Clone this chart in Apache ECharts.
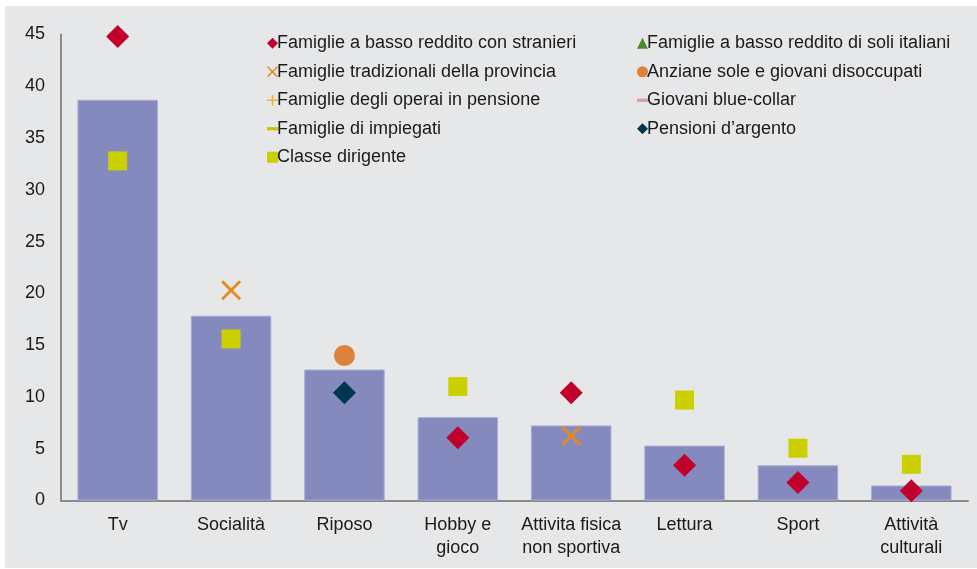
<!DOCTYPE html>
<html><head><meta charset="utf-8">
<script src="https://cdn.jsdelivr.net/npm/echarts@6/dist/echarts.min.js"></script>
<style>html,body{margin:0;padding:0;background:#fff;}#c{width:977px;height:569px;}</style>
</head><body><div id="c"></div>
<script>
const categories = ['Tv', 'Socialità', 'Riposo', 'Hobby e\ngioco', 'Attivita fisica\nnon sportiva', 'Lettura', 'Sport', 'Attività\nculturali'];
const barValues = [38.7, 17.85, 12.65, 8.05, 7.25, 5.3, 3.4, 1.45];
const stranieri = [44.8, null, null, 6.05, 10.4, 3.4, 1.75, 0.95];
const soliItaliani = [];
const tradizionali = [null, 20.3, null, null, 6.25, null, null, null];
const anziane = [null, null, 14.0, null, null, null, null, null];
const operai = [];
const blueCollar = [];
const impiegati = [];
const pensioni = [null, null, 10.4, null, null, null, null, null];
const dirigente = [32.8, 15.6, null, 11.0, null, 9.7, 5.05, 3.5];
const yTicks = [0, 45, 5];

const crossPath = 'path://M1,0 L5,4 L9,0 L10,1 L6,5 L10,9 L9,10 L5,6 L1,10 L0,9 L4,5 L0,1 Z';
const plusPath = 'path://M4.3,0 L5.7,0 L5.7,4.3 L10,4.3 L10,5.7 L5.7,5.7 L5.7,10 L4.3,10 L4.3,5.7 L0,5.7 L0,4.3 L4.3,4.3 Z';
const dashPath = 'path://M0,0 L10,0 L10,3 L0,3 Z';
const FONT = 'Liberation Sans, Arial, sans-serif';

const names = {
  a: 'Famiglie a basso reddito con stranieri',
  b: 'Famiglie a basso reddito di soli italiani',
  c: 'Famiglie tradizionali della provincia',
  d: 'Anziane sole e giovani disoccupati',
  e: 'Famiglie degli operai in pensione',
  f: 'Giovani blue-collar',
  g: 'Famiglie di impiegati',
  h: 'Pensioni d\u2019argento',
  i: 'Classe dirigente'
};

function sc(name, data, symbol, size, color) {
  return { type: 'scatter', name: name, data: data, symbol: symbol, symbolSize: size,
    symbolKeepAspect: true, itemStyle: { color: color, opacity: 1 }, z: 5 };
}

const legendCommon = {
  orient: 'vertical', itemWidth: 11, itemHeight: 11, itemGap: 0, selectedMode: false,
  textStyle: { fontFamily: FONT, fontSize: 18, color: '#1a1a1a', lineHeight: 28.5, padding: [0,0,0,-6] }
};

const chart = echarts.init(document.getElementById('c'), null, { renderer: 'canvas' });
chart.setOption({
  animation: false,
  backgroundColor: '#ffffff',
  graphic: [{ type: 'rect', shape: { x: 5, y: 6, width: 972, height: 562 }, style: { fill: '#e6e7e9' }, z: -10, silent: true }],
  legend: [
    Object.assign({}, legendCommon, { left: 262, top: 24, data: [
      { name: names.a }, { name: names.c }, { name: names.e }, { name: names.g }, { name: names.i }
    ]}),
    Object.assign({}, legendCommon, { left: 632, top: 24, data: [
      { name: names.b }, { name: names.d, icon: 'circle' }, { name: names.f }, { name: names.h }
    ]})
  ],
  grid: { left: 61, right: 9, top: 34.5, bottom: 68.5, containLabel: false },
  xAxis: {
    type: 'category', data: categories,
    axisLine: { lineStyle: { color: '#8a8a8a', width: 2 } },
    axisTick: { show: false },
    axisLabel: { fontFamily: FONT, fontSize: 18, color: '#1a1a1a', margin: 13, lineHeight: 23, interval: 0 }
  },
  yAxis: {
    type: 'value', min: yTicks[0], max: yTicks[1], interval: yTicks[2],
    axisLine: { show: true, lineStyle: { color: '#8a8a8a', width: 2 } },
    axisTick: { show: false },
    splitLine: { show: false },
    axisLabel: { fontFamily: FONT, fontSize: 18, color: '#1a1a1a', margin: 16 }
  },
  series: [
    { type: 'bar', name: 'bar', data: barValues, barCategoryGap: '29%',
      itemStyle: { color: '#858abe', borderColor: '#a9acd4', borderWidth: 1 }, z: 2 },
    sc(names.a, stranieri, 'diamond', 23, '#c1002c'),
    sc(names.b, soliItaliani, 'triangle', 12, '#4d8a2e'),
    sc(names.c, tradizionali, crossPath, 20, '#e9891c'),
    sc(names.d, anziane, 'circle', 21, '#dc823a'),
    sc(names.e, operai, plusPath, 12, '#f6b02c'),
    sc(names.f, blueCollar, dashPath, 10, '#d9a0a4'),
    sc(names.g, impiegati, dashPath, 10, '#c9c800'),
    sc(names.h, pensioni, 'diamond', 23, '#00354f'),
    sc(names.i, dirigente, 'rect', 19, '#cccf00')
  ]
});
</script></body></html>
